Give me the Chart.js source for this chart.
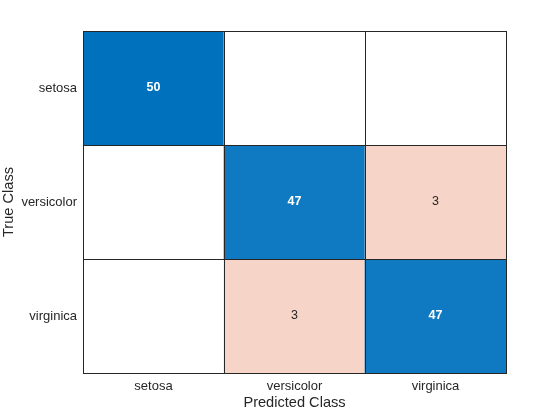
<!DOCTYPE html>
<html>
<head>
<meta charset="utf-8">
<script src="https://cdn.jsdelivr.net/npm/chart.js@4.4.1/dist/chart.umd.min.js"></script>
<style>
  html, body { margin: 0; background: #fff; }
  #wrap { width: 560px; height: 420px; }
</style>
</head>
<body>
<div id="wrap"><canvas id="chart_confusion"></canvas></div>
<script>
// classes, rows = true class, columns = predicted class
const classes = ['setosa', 'versicolor', 'virginica']
const row_setosa = [50, 0, 0]
const row_versicolor = [0, 47, 3]
const row_virginica = [0, 3, 47]
const rows = [row_setosa, row_versicolor, row_virginica]

const FONT = '"Liberation Sans", Arial, Helvetica, sans-serif'
const INK = '#262626'
const maxCount = Math.max(...rows.flat())

// white -> blue on the diagonal, light salmon off it
function cellColor(v, r, c) {
  if (!v) return '#ffffff'
  if (r !== c) return '#f6d5c8'
  const f = v / maxCount
  const mix = (a) => Math.round(255 - f * (255 - a))
  return 'rgb(' + mix(0) + ',' + mix(114) + ',' + mix(189) + ')'
}

const cellText = {
  id: 'cellText',
  afterDatasetsDraw(chart) {
    const {ctx, scales: {x, y}} = chart
    ctx.save()
    ctx.textAlign = 'center'
    ctx.textBaseline = 'middle'
    rows.forEach((row, r) => row.forEach((v, c) => {
      if (!v) return
      ctx.fillStyle = r === c ? '#ffffff' : INK
      ctx.font = (r === c ? 'bold ' : '') + '12.5px ' + FONT
      ctx.fillText(String(v), x.getPixelForValue(c), y.getPixelForValue(r))
    }))
    ctx.restore()
  }
}

const datasets = rows.map((row, r) => ({
  data: row.map(() => [r - 0.5, r + 0.5]),
  backgroundColor: row.map((v, c) => cellColor(v, r, c)),
  borderWidth: 0,
  categoryPercentage: 1,
  barPercentage: 1,
  grouped: false
}))

new Chart(document.getElementById('chart_confusion'), {
  type: 'bar',
  data: { labels: classes, datasets: datasets },
  plugins: [cellText],
  options: {
    responsive: true,
    maintainAspectRatio: false,
    animation: false,
    layout: { padding: { top: 31, right: 54, left: 0, bottom: 0 } },
    plugins: { legend: { display: false }, tooltip: { enabled: false } },
    scales: {
      x: {
        offset: true,
        grid: { z: 1, display: true, offset: true, color: INK, lineWidth: 1, drawTicks: false },
        border: { z: 2, display: true, color: INK },
        ticks: { color: INK, font: { family: FONT, size: 13 }, padding: 5.9, maxRotation: 0 },
        title: { display: true, text: 'Predicted Class', color: INK, font: { family: FONT, size: 14.6 }, padding: { top: 0, bottom: 8.2 } },
        afterFit(s) { s.height = 47 }
      },
      y: {
        type: 'linear',
        min: -0.5,
        max: 2.5,
        reverse: true,
        afterBuildTicks(s) { s.ticks = [-0.5, 0, 0.5, 1, 1.5, 2, 2.5].map(v => ({ value: v })) },
        grid: {
          z: 1,
          color: (ctx) => Number.isInteger(ctx.tick.value) ? 'rgba(0,0,0,0)' : INK,
          lineWidth: 1,
          drawTicks: false
        },
        border: { z: 2, display: true, color: INK },
        ticks: {
          autoSkip: false,
          color: INK,
          font: { family: FONT, size: 13 },
          padding: 6,
          callback: (v) => Number.isInteger(v) ? classes[v] : ''
        },
        title: { display: true, text: 'True Class', color: INK, font: { family: FONT, size: 14.6 }, padding: { top: 0.3, bottom: 0 } },
        afterFit(s) { s.width = 83 }
      }
    }
  }
})
</script>
</body>
</html>
